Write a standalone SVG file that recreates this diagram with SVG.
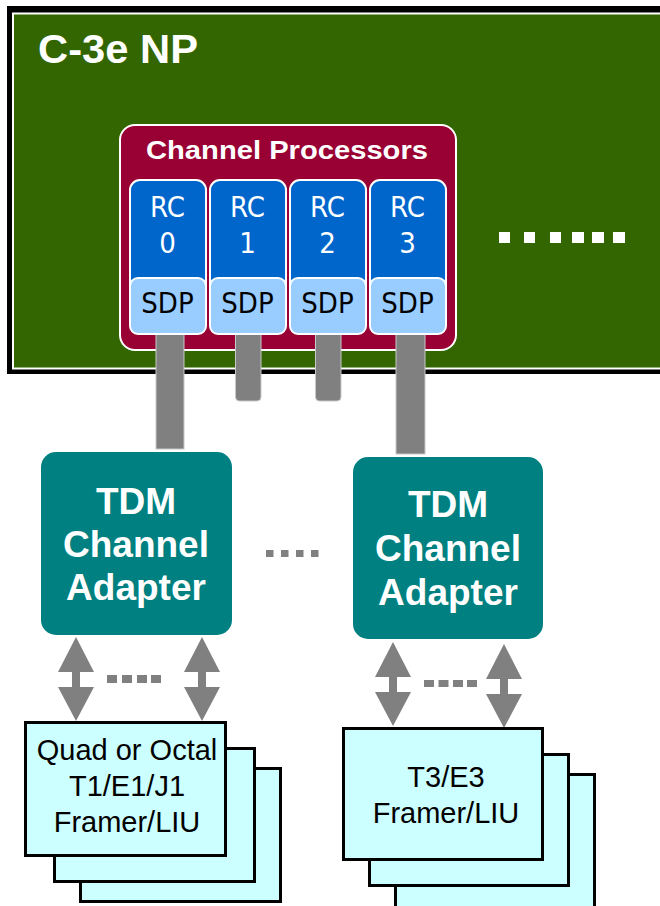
<svg xmlns="http://www.w3.org/2000/svg" width="660" height="906" viewBox="0 0 660 906">
<style>
.bold{font-family:"Liberation Sans",Arial,sans-serif;font-weight:bold;fill:#fff;text-anchor:middle}
.narrow{font-family:"Liberation Sans Narrow","Arial Narrow","DejaVu Sans Condensed",sans-serif;font-size:29px;text-anchor:middle}
.reg{font-family:"Liberation Sans",Arial,sans-serif;font-size:29px;fill:#000;text-anchor:middle}
.rc{fill:#0066CC;stroke:#fff;stroke-width:2}
.sdp{fill:#99CCFF;stroke:#fff;stroke-width:2}
.bar{fill:#808080;stroke:#c8c8c8;stroke-width:1}
.tdm{fill:#008080}
.fr{fill:#CCFFFF;stroke:#000;stroke-width:3}
.gdot{fill:#808080}
.wdot{fill:#fff}
.arr{fill:#808080}
</style>
<defs>
<path id="darrow" d="M0,0 L18,35 L4,35 L4,50 L18,50 L0,84 L-18,50 L-4,50 L-4,35 L-18,35 Z"/>
</defs>
<rect width="660" height="906" fill="#fff"/>

<g id="np">
<rect x="7" y="6" width="700" height="368" fill="#000"/>
<rect x="12" y="12.5" width="700" height="357" fill="#fff"/>
<rect x="14" y="14.5" width="700" height="353" fill="#336600"/>
<text class="bold" x="38" y="63" font-size="40" style="text-anchor:start" textLength="160" lengthAdjust="spacingAndGlyphs">C-3e NP</text>
<g class="wdot">
<rect x="499" y="232" width="11" height="11"/>
<rect x="524" y="232" width="11" height="11"/>
<rect x="550" y="232" width="11" height="11"/>
<rect x="572" y="232" width="12" height="11"/>
<rect x="592" y="232" width="12" height="11"/>
<rect x="613" y="232" width="12" height="11"/>
</g>
</g>

<g id="channel-processors">
<rect x="120" y="125" width="336" height="225" rx="15" fill="#990033" stroke="#fff" stroke-width="2"/>
<text class="bold" x="287" y="159" font-size="26" textLength="282" lengthAdjust="spacingAndGlyphs">Channel Processors</text>
</g>

<g id="connectors">
<rect class="bar" x="156" y="330" width="28" height="119"/>
<path class="bar" d="M235.5,330 V397 a4,4 0 0 0 4,4 H257 a4,4 0 0 0 4,-4 V330 Z"/>
<path class="bar" d="M315.5,330 V397 a4,4 0 0 0 4,4 H337 a4,4 0 0 0 4,-4 V330 Z"/>
<rect class="bar" x="396" y="330" width="29" height="124"/>
<use href="#darrow" class="arr" x="76" y="637"/>
<use href="#darrow" class="arr" x="202" y="637"/>
<use href="#darrow" class="arr" x="393" y="642"/>
<use href="#darrow" class="arr" x="504" y="644"/>
<g class="gdot">
<rect x="266" y="550" width="7.5" height="7"/>
<rect x="281" y="550" width="7.5" height="7"/>
<rect x="296" y="550" width="7.5" height="7"/>
<rect x="311" y="550" width="7.5" height="7"/>
<rect x="107" y="675" width="10" height="8"/>
<rect x="122" y="675" width="10" height="8"/>
<rect x="137" y="675" width="10" height="8"/>
<rect x="151" y="675" width="10" height="8"/>
<rect x="424" y="680" width="10" height="7"/>
<rect x="438.5" y="680" width="10" height="7"/>
<rect x="453" y="680" width="10" height="7"/>
<rect x="467" y="680" width="10" height="7"/>
</g>
</g>

<g id="rc0">
<rect class="rc" x="130" y="180" width="76" height="130" rx="10"/>
<rect class="sdp" x="130" y="278" width="76" height="56" rx="8"/>
<text class="narrow" x="167.5" y="217" fill="#fff">RC</text>
<text class="narrow" x="167.5" y="253" fill="#fff">0</text>
<text class="narrow" x="167.5" y="313" fill="#000">SDP</text>
</g>
<g id="rc1">
<rect class="rc" x="210" y="180" width="76" height="130" rx="10"/>
<rect class="sdp" x="210" y="278" width="76" height="56" rx="8"/>
<text class="narrow" x="247.5" y="217" fill="#fff">RC</text>
<text class="narrow" x="247.5" y="253" fill="#fff">1</text>
<text class="narrow" x="247.5" y="313" fill="#000">SDP</text>
</g>
<g id="rc2">
<rect class="rc" x="290" y="180" width="76" height="130" rx="10"/>
<rect class="sdp" x="290" y="278" width="76" height="56" rx="8"/>
<text class="narrow" x="327.5" y="217" fill="#fff">RC</text>
<text class="narrow" x="327.5" y="253" fill="#fff">2</text>
<text class="narrow" x="327.5" y="313" fill="#000">SDP</text>
</g>
<g id="rc3">
<rect class="rc" x="370" y="180" width="76" height="130" rx="10"/>
<rect class="sdp" x="370" y="278" width="76" height="56" rx="8"/>
<text class="narrow" x="407.5" y="217" fill="#fff">RC</text>
<text class="narrow" x="407.5" y="253" fill="#fff">3</text>
<text class="narrow" x="407.5" y="313" fill="#000">SDP</text>
</g>

<g id="tdm-left">
<rect class="tdm" x="41" y="452" width="191" height="183" rx="15"/>
<text class="bold" x="136" y="514" font-size="37">TDM</text>
<text class="bold" x="136" y="557" font-size="37">Channel</text>
<text class="bold" x="136" y="600" font-size="37">Adapter</text>
</g>
<g id="tdm-right">
<rect class="tdm" x="353" y="457" width="190" height="182" rx="15"/>
<text class="bold" x="448" y="517" font-size="37">TDM</text>
<text class="bold" x="448" y="561" font-size="37">Channel</text>
<text class="bold" x="448" y="605" font-size="37">Adapter</text>
</g>

<g id="framer-t1">
<rect class="fr" x="80.5" y="768.5" width="200" height="133"/>
<rect class="fr" x="54.5" y="748.5" width="200" height="133"/>
<rect class="fr" x="25.5" y="722.5" width="200" height="133"/>
<text class="reg" x="127" y="760">Quad or Octal</text>
<text class="reg" x="127" y="796">T1/E1/J1</text>
<text class="reg" x="127" y="832">Framer/LIU</text>
</g>
<g id="framer-t3">
<rect class="fr" x="395.5" y="774.5" width="199" height="140"/>
<rect class="fr" x="369.5" y="754.5" width="199" height="131"/>
<rect class="fr" x="343.5" y="728.5" width="199" height="131"/>
<text class="reg" x="446" y="787">T3/E3</text>
<text class="reg" x="446" y="823">Framer/LIU</text>
</g>
</svg>
